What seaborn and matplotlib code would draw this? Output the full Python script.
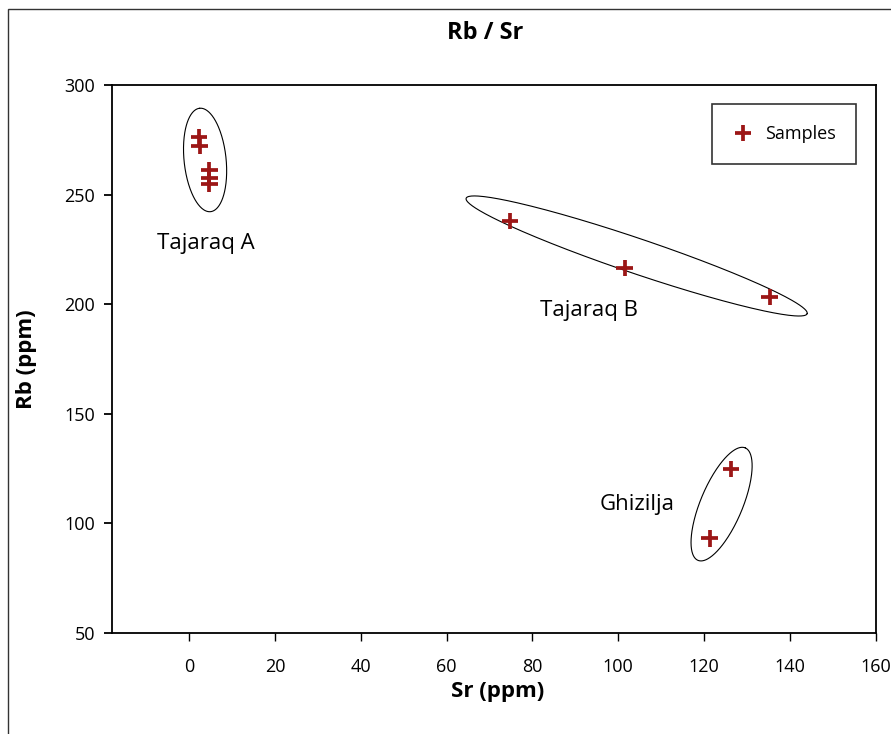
import matplotlib.pyplot as plt
import numpy as np
import pandas as pd
import seaborn as sns
from matplotlib.patches import Rectangle

# Rb / Sr samples
sr = [2.3, 2.4, 4.7, 4.7, 4.7, 74.8, 101.5, 135.3, 126.3, 121.3]
rb = [276.4, 272.2, 261.2, 257.8, 254.8, 238.0, 216.4, 203.4, 124.7, 93.2]
label = ["Samples"] * len(sr)

# group names and where they are written (data coords)
groups = ["Tajaraq A", "Tajaraq B", "Ghizilja"]
group_x = [4.0, 93.1, 104.3]
group_y = [227.9, 196.9, 108.8]

# hand-drawn ellipses: centre (data), semi axes (px), angle (deg)
ell_cx = [3.7, 104.3, 124.1]
ell_cy = [265.8, 222.0, 108.8]
ell_a = [52, 180, 61]
ell_b = [21, 17.5, 21]
ell_ang = [96, -18.7, 67.2]

df = pd.DataFrame({"Sr": sr, "Rb": rb, "kind": label})

sns.set_theme(style="white")
plt.rcParams["font.family"] = ["Open Sans", "DejaVu Sans"]
plt.rcParams["text.color"] = "black"
plt.rcParams["xtick.color"] = "black"
plt.rcParams["ytick.color"] = "black"

fig = plt.figure(figsize=(8.91, 7.34), dpi=100)
ax = fig.add_axes([0.1257, 0.1376, 0.857, 0.7466])

xmin, xmax, ymin, ymax = -18, 160, 50, 300
sns.scatterplot(data=df, x="Sr", y="Rb", hue="kind", palette=["#9c1616"],
                marker="+", s=140, linewidth=2.7, ax=ax, zorder=3)

ax.set_xlim(xmin, xmax)
ax.set_ylim(ymin, ymax)
ax.set_xticks(np.arange(0, 161, 20))
ax.set_yticks(np.arange(50, 301, 50))
ax.tick_params(axis="both", direction="out", length=6, width=1,
               labelsize=13, left=True, bottom=True)
ax.tick_params(axis="x", pad=12, colors="black")
ax.tick_params(axis="y", pad=6, width=1.3, colors="black")
for sp in ax.spines.values():
    sp.set_color("black")
    sp.set_linewidth(1.3)

# ellipses around groups
bbox = ax.get_position()
xppu = bbox.width * fig.get_figwidth() * fig.dpi / (xmax - xmin)
yppu = bbox.height * fig.get_figheight() * fig.dpi / (ymax - ymin)
t = np.linspace(0, 2 * np.pi, 300)
for cx, cy, a, b, ang in zip(ell_cx, ell_cy, ell_a, ell_b, ell_ang):
    th = np.deg2rad(ang)
    dx = a * np.cos(t) * np.cos(th) - b * np.sin(t) * np.sin(th)
    dy = a * np.cos(t) * np.sin(th) + b * np.sin(t) * np.cos(th)
    ax.plot(cx + dx / xppu, cy + dy / yppu, color="black", lw=0.8, zorder=2)

for g, gx, gy in zip(groups, group_x, group_y):
    ax.text(gx, gy, g, ha="center", va="center", fontsize=16, color="black")

ax.set_xlabel("")
ax.set_ylabel("")
fig.text(0.558, 0.058, "Sr (ppm)", ha="center", va="center", fontsize=16, fontweight="bold")
fig.text(0.030, 0.51, "Rb (ppm)", ha="center", va="center", rotation=90,
         fontsize=16, fontweight="bold")
fig.text(0.545, 0.955, "Rb / Sr", ha="center", va="center", fontsize=17, fontweight="bold")

leg = ax.legend(loc="upper right", bbox_to_anchor=(0.975, 0.965), borderaxespad=0,
                fancybox=False, edgecolor="black", fontsize=13, borderpad=1.15,
                handlelength=1.2, handletextpad=0.6)
leg.get_frame().set_linewidth(1.2)

# thin border round the whole picture
fig.patches.append(Rectangle((0.009, -0.01), 1.0, 0.998, transform=fig.transFigure,
                             fill=False, edgecolor="#333333", lw=1))

fig.savefig("out.png", dpi=100)
